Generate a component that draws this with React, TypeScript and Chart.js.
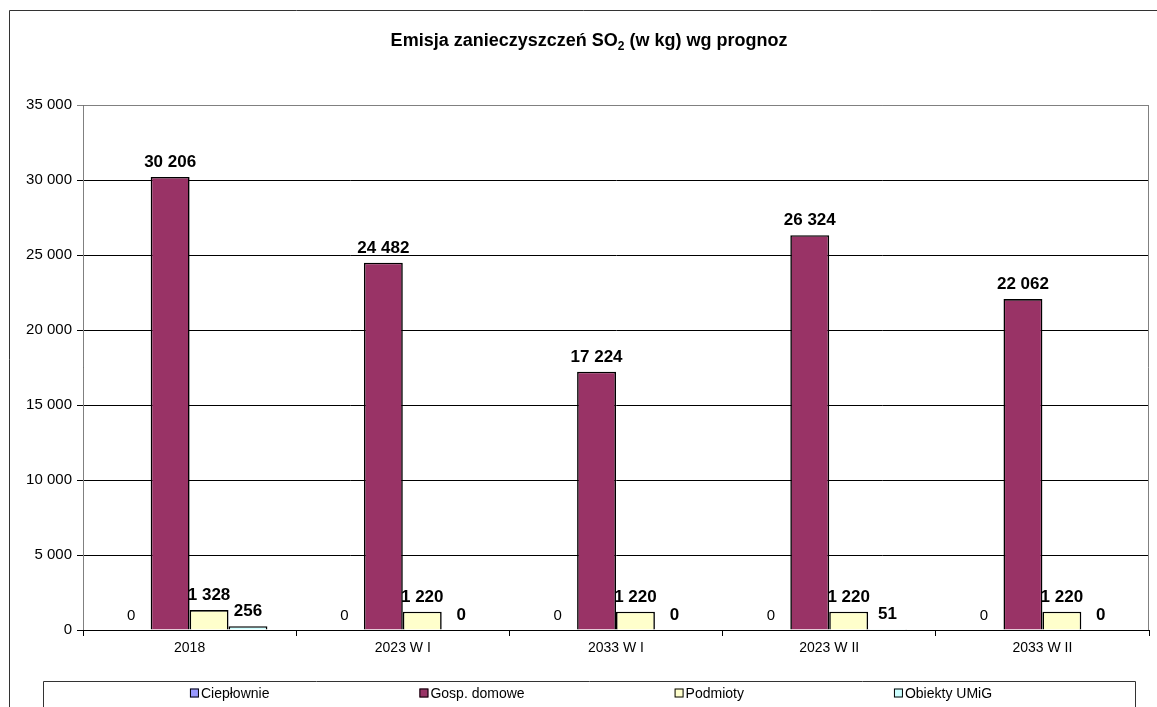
import React, { useEffect, useRef } from "react";
import { Chart, registerables } from "chart.js";

Chart.register(...registerables);

const titleMain = "Emisja zanieczyszczeń SO";
const titleSub = "2";
const titleRest = " (w kg) wg prognoz";

const categories = ["2018", "2023 W I", "2033 W I", "2023 W II", "2033 W II"];
const seriesNames = ["Ciepłownie", "Gosp. domowe", "Podmioty", "Obiekty UMiG"];
const cieplownie = [0, 0, 0, 0, 0];
const gospDomowe = [30206, 24482, 17224, 26324, 22062];
const podmioty = [1328, 1220, 1220, 1220, 1220];
const obiektyUmig = [256, 0, 0, 51, 0];
const seriesColors = ["#9999FF", "#993366", "#FFFFCC", "#CCFFFF"];
const yMin = 0;
const yMax = 35000;
const yStep = 5000;

const FONT = "'Liberation Sans', Arial, sans-serif";

function fmt(v: number): string {
  const s = Math.round(v).toString();
  return s.replace(/\B(?=(\d{3})+(?!\d))/g, " ");
}

const labelsPlugin = {
  id: "valueLabels",
  beforeDatasetsDraw(chart: any) {
    const ctx = chart.ctx;
    ctx.save();
    ctx.fillStyle = "#000";
    ctx.textAlign = "center";
    ctx.textBaseline = "alphabetic";
    chart.data.datasets.forEach((ds: any, di: number) => {
      const meta = chart.getDatasetMeta(di);
      ctx.font = di === 0 ? `15px ${FONT}` : `bold 17px ${FONT}`;
      meta.data.forEach((el: any, i: number) => {
        ctx.fillText(fmt(ds.data[i]), el.x, el.y - 10);
      });
    });
    ctx.restore();
  },
};

const framePlugin = {
  id: "frame",
  beforeDraw(chart: any) {
    const ctx = chart.ctx;
    ctx.save();
    ctx.fillStyle = "#fff";
    ctx.fillRect(0, 0, chart.width, chart.height);
    ctx.restore();
  },
  afterDraw(chart: any) {
    const ctx = chart.ctx;
    const a = chart.chartArea;
    ctx.save();
    // plot area border (gray)
    ctx.strokeStyle = "#808080";
    ctx.lineWidth = 1;
    ctx.beginPath();
    ctx.moveTo(a.left + 0.5, a.bottom);
    ctx.lineTo(a.left + 0.5, a.top + 0.5);
    ctx.lineTo(a.right - 0.5, a.top + 0.5);
    ctx.lineTo(a.right - 0.5, a.bottom);
    ctx.stroke();
    // bottom axis line black
    ctx.strokeStyle = "#000";
    ctx.beginPath();
    ctx.moveTo(a.left, a.bottom + 0.5);
    ctx.lineTo(a.right, a.bottom + 0.5);
    ctx.stroke();

    // outer frame
    ctx.strokeStyle = "#333";
    ctx.beginPath();
    ctx.moveTo(9.5, chart.height + 2);
    ctx.lineTo(9.5, 10.5);
    ctx.lineTo(chart.width + 2, 10.5);
    ctx.stroke();

    // legend box
    ctx.strokeStyle = "#333";
    ctx.beginPath();
    ctx.moveTo(43.5, chart.height + 2);
    ctx.lineTo(43.5, 681.5);
    ctx.lineTo(1135.5, 681.5);
    ctx.lineTo(1135.5, chart.height + 2);
    ctx.stroke();

    // title
    ctx.fillStyle = "#000";
    ctx.textBaseline = "alphabetic";
    ctx.textAlign = "left";
    const mainFont = `bold 18px ${FONT}`;
    const subFont = `bold 12px ${FONT}`;
    ctx.font = mainFont;
    const w1 = ctx.measureText(titleMain).width;
    const w3 = ctx.measureText(titleRest).width;
    ctx.font = subFont;
    const w2 = ctx.measureText(titleSub).width;
    const total = w1 + w2 + w3;
    let x = 589 - total / 2;
    const by = 46;
    ctx.font = mainFont;
    ctx.fillText(titleMain, x, by);
    x += w1;
    ctx.font = subFont;
    ctx.fillText(titleSub, x, by + 4);
    x += w2;
    ctx.font = mainFont;
    ctx.fillText(titleRest, x, by);

    // legend
    ctx.font = `14px ${FONT}`;
    const box = 9;
    const gapBoxText = 2;
    const gap = 150;
    const widths = seriesNames.map((n) => box + gapBoxText + ctx.measureText(n).width);
    const totalW = widths.reduce((s, v) => s + v, 0) + gap * (seriesNames.length - 1);
    let lx = 591 - totalW / 2;
    const cy = 693;
    ctx.textBaseline = "middle";
    seriesNames.forEach((n, i) => {
      ctx.fillStyle = seriesColors[i];
      ctx.fillRect(lx, cy - 4.5, box, box);
      ctx.strokeStyle = "#000";
      ctx.lineWidth = 1;
      ctx.strokeRect(lx + 0.5, cy - 4, box - 1, box - 1);
      ctx.fillStyle = "#000";
      ctx.fillText(n, lx + box + gapBoxText, cy + 1);
      lx += widths[i] + gap;
    });
    ctx.restore();
  },
};

export default function App() {
  const ref = useRef<HTMLCanvasElement | null>(null);
  useEffect(() => {
    if (!ref.current) return;
    const seriesData = [cieplownie, gospDomowe, podmioty, obiektyUmig];
    const chart = new Chart(ref.current, {
      type: "bar",
      data: {
        labels: categories,
        datasets: seriesNames.map((name, i) => ({
          label: name,
          data: seriesData[i],
          backgroundColor: seriesColors[i],
          borderColor: "#000",
          borderWidth: 1.6,
          barPercentage: 1,
          categoryPercentage: 0.73,
        })),
      },
      options: {
        responsive: false,
        maintainAspectRatio: false,
        animation: false,
        devicePixelRatio: 1,
        layout: { padding: { left: 0, right: 8, top: 105, bottom: 0 } },
        plugins: {
          legend: { display: false },
          title: { display: false },
          tooltip: { enabled: false },
        },
        scales: {
          x: {
            ticks: { color: "#000", font: { family: FONT, size: 14 }, padding: 4, maxRotation: 0 },
            grid: { drawOnChartArea: false, drawTicks: true, tickLength: 6, color: "#000" },
            border: { display: true, color: "#000" },
            afterFit: (s: any) => {
              s.height = 77;
            },
          },
          y: {
            min: yMin,
            max: yMax,
            ticks: {
              stepSize: yStep,
              color: "#000",
              font: { family: FONT, size: 15 },
              padding: 5,
              callback: (v: any) => fmt(Number(v)),
            },
            grid: {
              color: (c: any) => (c.tick && c.tick.value === yMax ? "#808080" : "#000"),
              tickLength: 6,
              drawTicks: true,
            },
            border: { display: true, color: "#404040" },
            afterFit: (s: any) => {
              s.width = 83;
            },
          },
        },
      },
      plugins: [framePlugin, labelsPlugin],
    });
    return () => chart.destroy();
  }, []);
  return (
    <div style={{ position: "absolute", left: 0, top: 0, width: 1157, height: 707 }}>
      <canvas ref={ref} width={1157} height={707} style={{ display: "block", width: 1157, height: 707 }} />
    </div>
  );
}
